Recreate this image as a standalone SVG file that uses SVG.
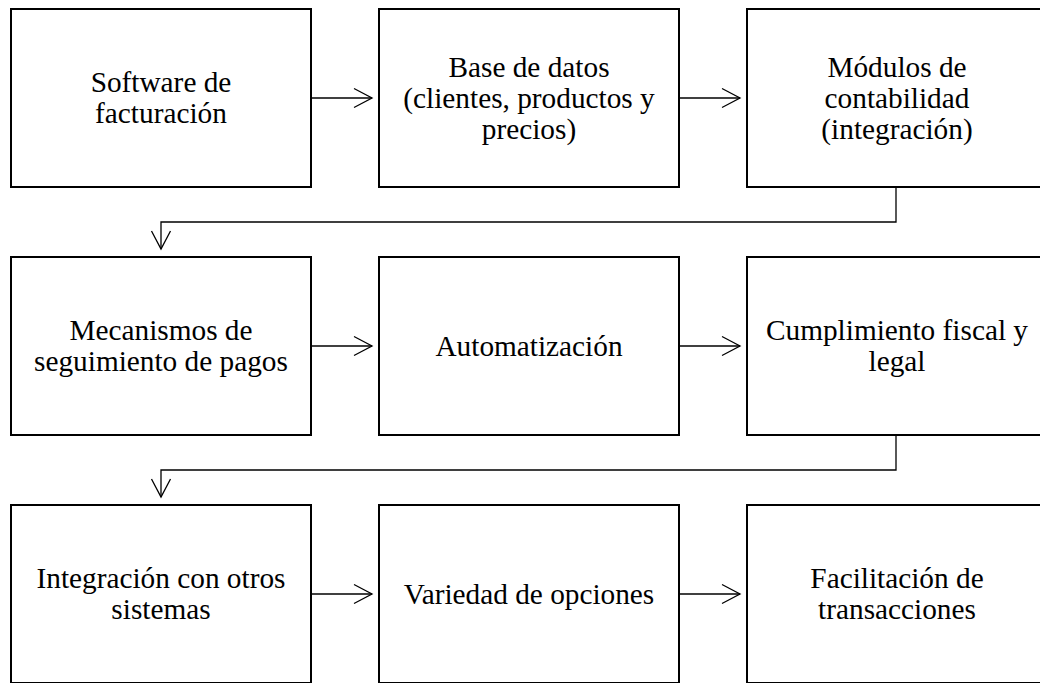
<svg xmlns="http://www.w3.org/2000/svg" width="1040" height="683" viewBox="0 0 1040 683">
<style>
.box{fill:#fff;stroke:#000;stroke-width:2}
.lbl{font-family:"Liberation Serif","Times New Roman",serif;font-size:29.3px;fill:#000;text-anchor:middle}
.con{fill:none;stroke:#000;stroke-width:1.3}
</style>
<defs>
<marker id="arr" markerUnits="userSpaceOnUse" markerWidth="24" markerHeight="24" viewBox="-20 -12 24 24" refX="0" refY="0" orient="auto" overflow="visible">
<path d="M-18,-9.5 L0,0 L-18,9.5" fill="none" stroke="#000" stroke-width="1.3"/>
</marker>
</defs>
<rect width="1040" height="683" fill="#fff"/>
<g id="connectors">
<path class="con" d="M311,98 H372" marker-end="url(#arr)"/>
<path class="con" d="M679,98 H740" marker-end="url(#arr)"/>
<path class="con" d="M896,187 V222 H161 V249" marker-end="url(#arr)"/>
<path class="con" d="M311,346 H372" marker-end="url(#arr)"/>
<path class="con" d="M679,346 H740" marker-end="url(#arr)"/>
<path class="con" d="M896,435 V470 H161 V497" marker-end="url(#arr)"/>
<path class="con" d="M311,594 H372" marker-end="url(#arr)"/>
<path class="con" d="M679,594 H740" marker-end="url(#arr)"/>
</g>
<g id="n1"><rect class="box" x="11" y="9" width="300" height="178"/>
<text class="lbl" x="161" y="91.5">Software de</text><text class="lbl" x="161" y="122.5">facturación</text></g>
<g id="n2"><rect class="box" x="379" y="9" width="300" height="178"/>
<text class="lbl" x="529" y="76.5">Base de datos</text><text class="lbl" x="529" y="107.5">(clientes, productos y</text><text class="lbl" x="529" y="138.5">precios)</text></g>
<g id="n3"><rect class="box" x="747" y="9" width="300" height="178"/>
<text class="lbl" x="897" y="76.5">Módulos de</text><text class="lbl" x="897" y="107.5">contabilidad</text><text class="lbl" x="897" y="138.5">(integración)</text></g>
<g id="n4"><rect class="box" x="11" y="257" width="300" height="178"/>
<text class="lbl" x="161" y="339.5">Mecanismos de</text><text class="lbl" x="161" y="370.5">seguimiento de pagos</text></g>
<g id="n5"><rect class="box" x="379" y="257" width="300" height="178"/>
<text class="lbl" x="529" y="355.5">Automatización</text></g>
<g id="n6"><rect class="box" x="747" y="257" width="300" height="178"/>
<text class="lbl" x="897" y="339.5">Cumplimiento fiscal y</text><text class="lbl" x="897" y="370.5">legal</text></g>
<g id="n7"><rect class="box" x="11" y="505" width="300" height="178"/>
<text class="lbl" x="161" y="587.5">Integración con otros</text><text class="lbl" x="161" y="618.5">sistemas</text></g>
<g id="n8"><rect class="box" x="379" y="505" width="300" height="178"/>
<text class="lbl" x="529" y="603.5">Variedad de opciones</text></g>
<g id="n9"><rect class="box" x="747" y="505" width="300" height="178"/>
<text class="lbl" x="897" y="587.5">Facilitación de</text><text class="lbl" x="897" y="618.5">transacciones</text></g>
</svg>
